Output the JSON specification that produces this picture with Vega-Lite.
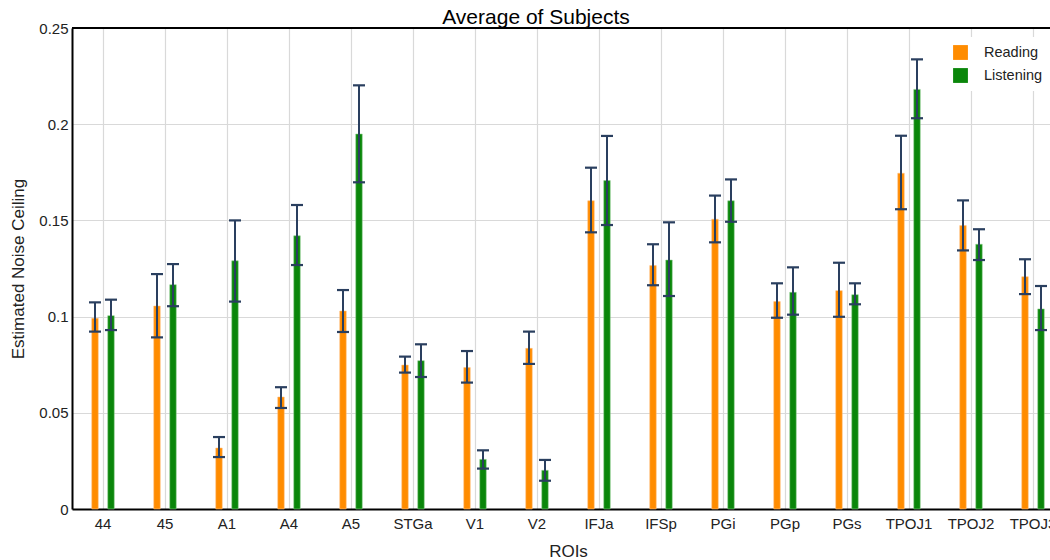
{
  "$schema": "https://vega.github.io/schema/vega-lite/v6.json",
  "autosize": {"type": "none"},
  "padding": {"left": 72, "top": 28, "right": 0, "bottom": 51},
  "width": 978,
  "height": 481,
  "background": "white",
  "title": {
    "text": "Average of Subjects",
    "font": "Liberation Sans",
    "fontSize": 21,
    "fontWeight": "normal",
    "color": "#000",
    "dx": -25,
    "offset": -7
  },
  "config": {
    "view": {"stroke": null},
    "font": "Liberation Sans"
  },
  "data": {
    "values": [
      {"roi": "44", "cond": "Reading", "val": 0.0991, "lo": 0.0922, "hi": 0.1074},
      {"roi": "44", "cond": "Listening", "val": 0.1005, "lo": 0.0930, "hi": 0.1088},
      {"roi": "45", "cond": "Reading", "val": 0.1055, "lo": 0.0892, "hi": 0.1221},
      {"roi": "45", "cond": "Listening", "val": 0.1166, "lo": 0.1054, "hi": 0.1273},
      {"roi": "A1", "cond": "Reading", "val": 0.0317, "lo": 0.0270, "hi": 0.0374},
      {"roi": "A1", "cond": "Listening", "val": 0.1290, "lo": 0.1078, "hi": 0.1500},
      {"roi": "A4", "cond": "Reading", "val": 0.0582, "lo": 0.0525, "hi": 0.0633},
      {"roi": "A4", "cond": "Listening", "val": 0.1420, "lo": 0.1268, "hi": 0.1580},
      {"roi": "A5", "cond": "Reading", "val": 0.1029, "lo": 0.0920, "hi": 0.1138},
      {"roi": "A5", "cond": "Listening", "val": 0.1949, "lo": 0.1698, "hi": 0.2202},
      {"roi": "STGa", "cond": "Reading", "val": 0.0748, "lo": 0.0709, "hi": 0.0792},
      {"roi": "STGa", "cond": "Listening", "val": 0.0771, "lo": 0.0686, "hi": 0.0856},
      {"roi": "V1", "cond": "Reading", "val": 0.0735, "lo": 0.0657, "hi": 0.0821},
      {"roi": "V1", "cond": "Listening", "val": 0.0258, "lo": 0.0210, "hi": 0.0305},
      {"roi": "V2", "cond": "Reading", "val": 0.0835, "lo": 0.0754, "hi": 0.0922},
      {"roi": "V2", "cond": "Listening", "val": 0.0201, "lo": 0.0147, "hi": 0.0255},
      {"roi": "IFJa", "cond": "Reading", "val": 0.1602, "lo": 0.1438, "hi": 0.1774},
      {"roi": "IFJa", "cond": "Listening", "val": 0.1707, "lo": 0.1476, "hi": 0.1939},
      {"roi": "IFSp", "cond": "Reading", "val": 0.1265, "lo": 0.1163, "hi": 0.1376},
      {"roi": "IFSp", "cond": "Listening", "val": 0.1294, "lo": 0.1107, "hi": 0.1490},
      {"roi": "PGi", "cond": "Reading", "val": 0.1506, "lo": 0.1386, "hi": 0.1629},
      {"roi": "PGi", "cond": "Listening", "val": 0.1602, "lo": 0.1493, "hi": 0.1713},
      {"roi": "PGp", "cond": "Reading", "val": 0.1078, "lo": 0.0994, "hi": 0.1173},
      {"roi": "PGp", "cond": "Listening", "val": 0.1126, "lo": 0.1010, "hi": 0.1256},
      {"roi": "PGs", "cond": "Reading", "val": 0.1135, "lo": 0.0999, "hi": 0.1280},
      {"roi": "PGs", "cond": "Listening", "val": 0.1114, "lo": 0.1064, "hi": 0.1173},
      {"roi": "TPOJ1", "cond": "Reading", "val": 0.1745, "lo": 0.1558, "hi": 0.1940},
      {"roi": "TPOJ1", "cond": "Listening", "val": 0.2181, "lo": 0.2031, "hi": 0.2337},
      {"roi": "TPOJ2", "cond": "Reading", "val": 0.1473, "lo": 0.1344, "hi": 0.1604},
      {"roi": "TPOJ2", "cond": "Listening", "val": 0.1376, "lo": 0.1294, "hi": 0.1454},
      {"roi": "TPOJ3", "cond": "Reading", "val": 0.1207, "lo": 0.1117, "hi": 0.1298},
      {"roi": "TPOJ3", "cond": "Listening", "val": 0.1040, "lo": 0.0930, "hi": 0.1159}
    ]
  },
  "encoding": {
    "x": {
      "field": "roi",
      "type": "nominal",
      "sort": null,
      "scale": {"range": [0, 992], "paddingInner": 0, "paddingOuter": 0},
      "axis": {
        "title": "ROIs",
        "titleFont": "Liberation Sans",
        "titleFontSize": 17,
        "titleFontWeight": "normal",
        "titleColor": "#222",
        "titlePadding": 12,
        "titleX": 496,
        "labelAngle": 0,
        "labelFont": "Liberation Sans",
        "labelFontSize": 15,
        "labelColor": "#222",
        "labelPadding": 7,
        "ticks": false,
        "domainColor": "#000",
        "domainWidth": 2,
        "grid": true,
        "gridColor": "#d9d9d9",
        "gridWidth": 1.2,
        "bandPosition": 0.5
      }
    },
    "xOffset": {
      "field": "cond",
      "type": "nominal",
      "sort": ["Reading", "Listening"],
      "scale": {"range": [15, 47], "paddingInner": 0, "paddingOuter": 0}
    }
  },
  "layer": [
    {
      "mark": {"type": "rule", "color": "#000", "strokeWidth": 1.5},
      "encoding": {"y": {"datum": 0.25, "type": "quantitative"}, "x": null, "xOffset": null}
    },
    {
      "mark": {"type": "bar", "width": 6.5, "strokeWidth": 1, "strokeOpacity": 0.55},
      "encoding": {
        "y": {
          "field": "val",
          "type": "quantitative",
          "scale": {"domain": [0, 0.25], "nice": false},
          "axis": {
            "title": "Estimated Noise Ceiling",
            "titleFont": "Liberation Sans",
            "titleFontSize": 17,
            "titleFontWeight": "normal",
            "titleColor": "#222",
            "titlePadding": 11,
            "values": [0, 0.05, 0.1, 0.15, 0.2, 0.25],
            "format": ".2~f",
            "labelFont": "Liberation Sans",
            "labelFontSize": 15,
            "labelColor": "#222",
            "labelPadding": 4,
            "ticks": false,
            "domainColor": "#000",
            "domainWidth": 2,
            "grid": true,
            "gridColor": "#d9d9d9",
            "gridWidth": 1.2
          }
        },
        "color": {
          "field": "cond",
          "type": "nominal",
          "sort": ["Reading", "Listening"],
          "scale": {"domain": ["Reading", "Listening"], "range": ["#ff8c00", "#0a860a"]},
          "legend": {
            "title": null,
            "orient": "none",
            "legendX": 873,
            "legendY": 9,
            "symbolType": "square",
            "symbolSize": 220,
            "symbolStrokeWidth": 0,
            "symbolOpacity": 1,
            "labelFont": "Liberation Sans",
            "labelFontSize": 14.5,
            "labelColor": "#222",
            "labelOffset": 16,
            "rowPadding": 7,
            "fillColor": "white",
            "padding": 8
          }
        },
        "stroke": {
          "field": "cond",
          "type": "nominal",
          "scale": {"domain": ["Reading", "Listening"], "range": ["#ffc080", "#8fcf8f"]},
          "legend": null
        }
      }
    },
    {
      "mark": {"type": "rule", "color": "#2a3f5f", "strokeWidth": 2},
      "encoding": {
        "y": {"field": "lo", "type": "quantitative"},
        "y2": {"field": "hi"}
      }
    },
    {
      "mark": {"type": "tick", "color": "#2a3f5f", "thickness": 2.2, "size": 12, "opacity": 1, "orient": "horizontal"},
      "encoding": {"y": {"field": "lo", "type": "quantitative"}}
    },
    {
      "mark": {"type": "tick", "color": "#2a3f5f", "thickness": 2.2, "size": 12, "opacity": 1, "orient": "horizontal"},
      "encoding": {"y": {"field": "hi", "type": "quantitative"}}
    }
  ]
}
